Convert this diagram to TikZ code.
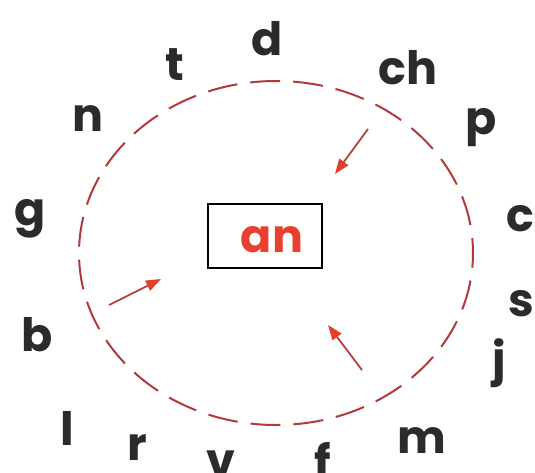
\documentclass[tikz,border=0pt]{standalone}
\usepackage{fontspec}
\setmainfont{Poppins}
\usetikzlibrary{arrows.meta}
\definecolor{ink}{HTML}{2B2A2C}
\definecolor{dashred}{HTML}{B23A3C}
\definecolor{arrowred}{HTML}{B8403E}
\definecolor{headred}{HTML}{E2402F}
\definecolor{anred}{HTML}{E8402F}
\tikzset{
  letter/.style={anchor=base, inner sep=0pt, text=ink, font=\fontsize{46}{46}\selectfont\bfseries},
  ring/.style={draw=dashred, line width=2pt, dash pattern=on 30pt off 13pt, dash phase=15pt},
  pointer/.style={draw=arrowred, line width=1.8pt, -{Triangle[length=15pt,width=11pt,color=headred,fill=headred]}},
  centerbox/.style={draw=black, line width=2.4pt, minimum width=114pt, minimum height=64pt, inner sep=0pt}
}
\begin{document}
\begin{tikzpicture}[x=1pt,y=-1pt]
\useasboundingbox (0,0) rectangle (535,472);
\fill[white] (0,0) rectangle (535,472);
\draw[ring] (276,253) ellipse [x radius=197pt, y radius=172pt];
\node[centerbox] (box) at (265,236) {};
\node[anchor=base, inner sep=0pt, text=anred, font=\fontsize{46}{46}\selectfont\bfseries] (an) at (272,252) {an};
\node[letter] (d) at (267,55) {d};
\node[letter] (t) at (175,80) {t};
\node[letter] (ch) at (408,84) {ch};
\node[letter] (n) at (88,131) {n};
\node[letter] (p) at (481,134) {p};
\node[letter] (g) at (30,225) {g};
\node[letter] (c) at (520,231) {c};
\node[letter] (s) at (521,316) {s};
\node[letter] (b) at (37,351) {b};
\node[letter] (j) at (499,375) {j};
\node[letter] (l) at (67,445) {l};
\node[letter] (r) at (137,460) {r};
\node[letter] (v) at (221,476) {v};
\node[letter] (f) at (323,478) {f};
\node[letter] (m) at (422,453) {m};
\coordinate (a1s) at (368,129);
\coordinate (a1e) at (335,174);
\coordinate (a2s) at (109,305);
\coordinate (a2e) at (161,279);
\coordinate (a3s) at (362,370);
\coordinate (a3e) at (328,325);
\draw[pointer] (a1s) -- (a1e);
\draw[pointer] (a2s) -- (a2e);
\draw[pointer] (a3s) -- (a3e);
\end{tikzpicture}
\end{document}
